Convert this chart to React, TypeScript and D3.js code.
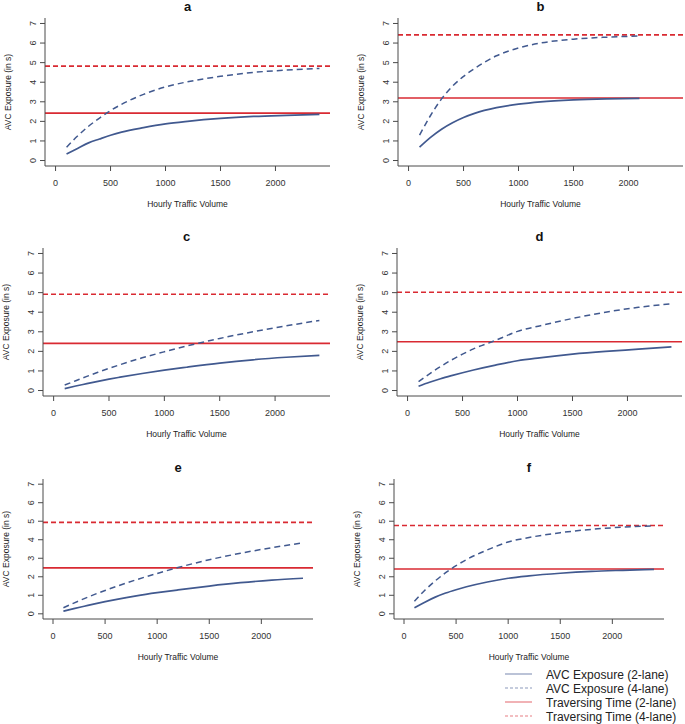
import React, { useEffect } from "react";
import * as d3 from "d3";

// hourly traffic volume where the curves were sampled
const volume = [100, 200, 300, 400, 500, 600, 800, 1000, 1200, 1500, 1800, 2100, 2400];
const volumeB = [100, 200, 300, 400, 500, 600, 800, 1000, 1200, 1500, 1800, 2100];

const panelLabels = ["a", "b", "c", "d", "e", "f"];

// AVC exposure, 2-lane (solid blue)
const avc2a = [0.33, 0.62, 0.9, 1.1, 1.29, 1.45, 1.68, 1.87, 2.0, 2.15, 2.25, 2.31, 2.36];
const avc2b = [0.68, 1.18, 1.6, 1.93, 2.2, 2.41, 2.7, 2.88, 3.0, 3.1, 3.15, 3.17];
const avc2c = [0.1, 0.23, 0.35, 0.47, 0.58, 0.68, 0.87, 1.04, 1.19, 1.4, 1.57, 1.7, 1.8];
const avc2d = [0.22, 0.42, 0.6, 0.76, 0.91, 1.05, 1.3, 1.52, 1.67, 1.86, 2.0, 2.11, 2.23];
const avc2e = [0.14, 0.28, 0.41, 0.54, 0.66, 0.77, 0.97, 1.14, 1.29, 1.5, 1.68, 1.82, 1.92];
const avc2f = [0.33, 0.63, 0.9, 1.12, 1.3, 1.46, 1.72, 1.92, 2.05, 2.19, 2.29, 2.35, 2.4];

// AVC exposure, 4-lane (dashed blue)
const avc4a = [0.68, 1.25, 1.75, 2.17, 2.55, 2.87, 3.38, 3.76, 4.02, 4.3, 4.5, 4.62, 4.7];
const avc4b = [1.3, 2.3, 3.15, 3.8, 4.3, 4.7, 5.35, 5.75, 6.0, 6.2, 6.3, 6.36];
const avc4c = [0.28, 0.5, 0.72, 0.93, 1.13, 1.32, 1.67, 1.98, 2.27, 2.66, 3.0, 3.3, 3.58];
const avc4d = [0.45, 0.85, 1.22, 1.56, 1.86, 2.13, 2.56, 3.02, 3.3, 3.68, 4.0, 4.25, 4.43];
const avc4e = [0.33, 0.58, 0.82, 1.05, 1.26, 1.46, 1.84, 2.18, 2.5, 2.92, 3.27, 3.57, 3.83];
const avc4f = [0.68, 1.27, 1.78, 2.22, 2.6, 2.93, 3.45, 3.88, 4.12, 4.38, 4.56, 4.68, 4.75];

// traversing time (horizontal red lines)
const traverse2 = [2.42, 3.19, 2.41, 2.49, 2.48, 2.42];
const traverse4 = [4.82, 6.42, 4.92, 5.02, 4.94, 4.77];

const xTicks = [0, 500, 1000, 1500, 2000];
const yTicks = [0, 1, 2, 3, 4, 5, 6, 7];

const legendLabels = [
  "AVC Exposure (2-lane)",
  "AVC Exposure (4-lane)",
  "Traversing Time (2-lane)",
  "Traversing Time (4-lane)",
];

const BLUE = "#41598f";
const RED = "#d92a32";
const AXIS = "#4a4a4a";
const FONT = "'Liberation Sans', Arial, sans-serif";

// plot boxes (left, right, top, bottom) for each panel
const boxes = [
  { l: 45, r: 330, t: 18, b: 166 },
  { l: 398, r: 683, t: 18, b: 166 },
  { l: 43, r: 330, t: 248, b: 396 },
  { l: 397, r: 682, t: 248, b: 396 },
  { l: 43, r: 313, t: 479, b: 619 },
  { l: 394, r: 664, t: 479, b: 619 },
];

const panelX = [volume, volumeB, volume, volume, volume, volume];
const panelAvc2 = [avc2a, avc2b, avc2c, avc2d, avc2e, avc2f];
const panelAvc4 = [avc4a, avc4b, avc4c, avc4d, avc4e, avc4f];

const Panel = ({ i }: { i: number }) => {
  const box = boxes[i];
  // R-style 4% padding around xlim = c(0, 2400), ylim = c(0, 7)
  const x = d3.scaleLinear().domain([-96, 2496]).range([box.l, box.r]);
  const y = d3.scaleLinear().domain([-0.28, 7.28]).range([box.b, box.t]);
  const line = d3
    .line<[number, number]>()
    .x((d) => x(d[0]))
    .y((d) => y(d[1]))
    .curve(d3.curveMonotoneX);

  const xs = panelX[i];
  const solid = xs.map((v, k) => [v, panelAvc2[i][k]] as [number, number]);
  const dashed = xs.map((v, k) => [v, panelAvc4[i][k]] as [number, number]);
  const cx = (box.l + box.r) / 2;
  const cy = (box.t + box.b) / 2;

  return (
    <g>
      <text
        x={cx}
        y={box.t - 7}
        textAnchor="middle"
        fontFamily={FONT}
        fontWeight="bold"
        fontSize={13}
        fill="#111"
      >
        {panelLabels[i]}
      </text>

      {/* traversing time */}
      <line x1={box.l} x2={box.r} y1={y(traverse2[i])} y2={y(traverse2[i])} stroke={RED} strokeWidth={1.6} />
      <line
        x1={box.l}
        x2={box.r}
        y1={y(traverse4[i])}
        y2={y(traverse4[i])}
        stroke={RED}
        strokeWidth={1.6}
        strokeDasharray="5,3"
      />

      {/* AVC exposure */}
      <path d={line(solid) || ""} fill="none" stroke={BLUE} strokeWidth={1.7} />
      <path d={line(dashed) || ""} fill="none" stroke={BLUE} strokeWidth={1.5} strokeDasharray="6,4" />

      {/* L-shaped box */}
      <path d={`M${box.l},${box.t}V${box.b}H${box.r}`} fill="none" stroke={AXIS} strokeWidth={1} />

      {yTicks.map((t) => (
        <g key={"y" + t}>
          <line x1={box.l - 5} x2={box.l} y1={y(t)} y2={y(t)} stroke={AXIS} />
          <text
            transform={`translate(${box.l - 9},${y(t)}) rotate(-90)`}
            textAnchor="middle"
            fontFamily={FONT}
            fontSize={9}
            fill="#333"
          >
            {t}
          </text>
        </g>
      ))}
      {xTicks.map((t) => (
        <g key={"x" + t}>
          <line x1={x(t)} x2={x(t)} y1={box.b} y2={box.b + 5} stroke={AXIS} />
          <text x={x(t)} y={box.b + 20} textAnchor="middle" fontFamily={FONT} fontSize={9} fill="#333">
            {t}
          </text>
        </g>
      ))}

      <text x={cx} y={box.b + 41} textAnchor="middle" fontFamily={FONT} fontSize={8.5} fill="#222">
        Hourly Traffic Volume
      </text>
      <text
        transform={`translate(${box.l - 34},${cy}) rotate(-90)`}
        textAnchor="middle"
        fontFamily={FONT}
        fontSize={8.5}
        fill="#222"
      >
        AVC Exposure (in s)
      </text>
    </g>
  );
};

const Legend = () => {
  const rowY = d3.scalePoint<string>().domain(legendLabels).range([674, 716]);
  const colors = [BLUE, BLUE, RED, RED];
  const dashes = [undefined, "3,2", undefined, "3,2"];
  return (
    <g>
      {legendLabels.map((lab, k) => (
        <g key={lab}>
          <line
            x1={505}
            x2={532}
            y1={rowY(lab)}
            y2={rowY(lab)}
            stroke={colors[k]}
            strokeOpacity={0.6}
            strokeWidth={1.2}
            strokeDasharray={dashes[k]}
          />
          <text x={546} y={(rowY(lab) || 0) + 4.5} fontFamily={FONT} fontSize={12} fill="#222">
            {lab}
          </text>
        </g>
      ))}
    </g>
  );
};

export default function App() {
  useEffect(() => {
    document.body.style.margin = "0";
  }, []);
  return (
    <svg width={685} height={724} style={{ display: "block", background: "#fff" }}>
      {panelLabels.map((_, i) => (
        <Panel key={i} i={i} />
      ))}
      <Legend />
    </svg>
  );
}
